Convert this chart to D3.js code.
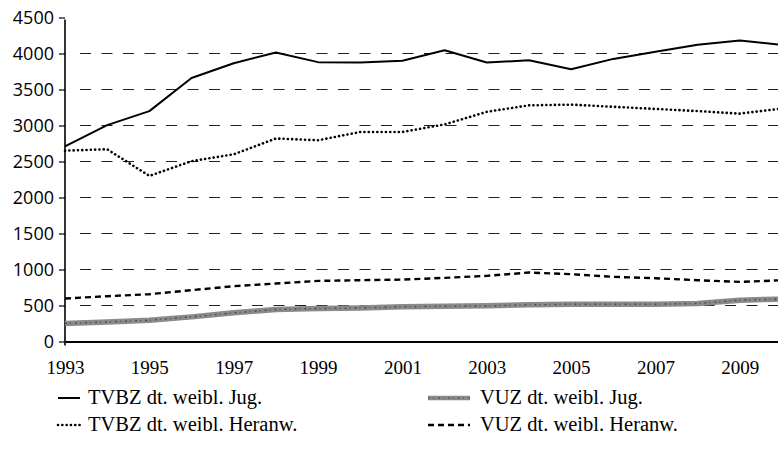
<!DOCTYPE html>
<html>
<head>
<meta charset="utf-8">
<script src="https://cdn.jsdelivr.net/npm/d3@7"></script>
<style>
  body { margin: 0; background: #fff; }
  svg { display: block; }
</style>
</head>
<body>
<div id="chart"></div>
<script>
// Données
const years = d3.range(1993, 2011);
const tvbzJug = [2710, 3005, 3200, 3660, 3865, 4015, 3880, 3875, 3900, 4045, 3875, 3905, 3780, 3925, 4025, 4120, 4180, 4120];
const tvbzHeranw = [2650, 2670, 2300, 2505, 2600, 2820, 2795, 2910, 2910, 3015, 3190, 3280, 3290, 3260, 3230, 3200, 3165, 3235];
const vuzJug = [250, 272, 295, 342, 398, 444, 458, 467, 481, 490, 495, 509, 518, 518, 518, 527, 573, 590];
const vuzHeranw = [597, 629, 657, 713, 768, 805, 842, 851, 860, 884, 912, 958, 935, 898, 879, 851, 828, 851];
const yTicks = d3.range(0, 4501, 500);
const xTicks = d3.range(1993, 2010, 2);
const legendLabels = [
  "TVBZ dt. weibl. Jug.", "VUZ dt. weibl. Jug.",
  "TVBZ dt. weibl. Heranw.", "VUZ dt. weibl. Heranw."
];

const width = 778, height = 457;
const svg = d3.select('#chart').append('svg')
  .attr('width', width)
  .attr('height', height);

const x = d3.scaleLinear().domain([1993, 2010]).range([65, 782]);
const y = d3.scaleLinear().domain([0, 4500]).range([341.5, 17.5]);

// Quadrillage
svg.append('g').selectAll('line')
  .data(yTicks.filter(d => d > 0 && d < 4500))
  .join('line')
  .attr('x1', 80).attr('x2', width)
  .attr('y1', d => y(d)).attr('y2', d => y(d))
  .attr('stroke', '#222')
  .attr('stroke-width', 1.2)
  .attr('stroke-dasharray', '11,10.5');

// Axe Y
const yAxis = svg.append('g')
  .attr('transform', `translate(${x(1993)},0)`)
  .call(d3.axisLeft(y).tickValues(yTicks).tickSize(6).tickPadding(5).tickFormat(d3.format('d')));
yAxis.select('.domain').attr('stroke', '#000').attr('stroke-width', 1.6)
  .attr('d', `M0,${y(4500) + 2}V${y(0) + 4}`);
yAxis.selectAll('.tick line').attr('stroke', '#000').attr('stroke-width', 1.2);
yAxis.selectAll('text')
  .attr('font-family', '"Open Sans", sans-serif')
  .attr('font-size', 18)
  .attr('fill', '#000');

// Axe X
const xAxis = svg.append('g')
  .attr('transform', `translate(0,${y(0)})`)
  .call(d3.axisBottom(x).tickValues(xTicks).tickSize(0).tickPadding(19).tickFormat(d3.format('d')));
xAxis.select('.domain').attr('stroke', '#000').attr('stroke-width', 2.2);
xAxis.selectAll('text')
  .attr('font-family', '"Liberation Serif", serif')
  .attr('font-size', 19)
  .attr('fill', '#000');

// Styles des séries
const styles = [
  { data: tvbzJug, stroke: '#000', width: 2, dash: null, cap: 'butt' },
  { data: vuzJug, stroke: '#8a8a8a', width: 5.5, dash: null, cap: 'butt', texture: true },
  { data: tvbzHeranw, stroke: '#000', width: 2.6, dash: '0.1,4.2', cap: 'round' },
  { data: vuzHeranw, stroke: '#000', width: 2.4, dash: '6,4', cap: 'butt' }
];

const line = d3.line().x((d, i) => x(years[i])).y(d => y(d));

styles.forEach(s => {
  svg.append('path')
    .datum(s.data)
    .attr('d', line)
    .attr('fill', 'none')
    .attr('stroke', s.stroke)
    .attr('stroke-width', s.width)
    .attr('stroke-linecap', s.cap)
    .attr('stroke-linejoin', 'round')
    .attr('stroke-dasharray', s.dash);
  if (s.texture) {
    svg.append('path')
      .datum(s.data)
      .attr('d', line)
      .attr('fill', 'none')
      .attr('stroke', '#4a4a4a')
      .attr('stroke-width', 1.4)
      .attr('stroke-dasharray', '2,3,1,4');
  }
});

// Légende
const legend = svg.append('g');
const legendPos = [[58, 398], [428, 398], [58, 425], [428, 425]];
legendLabels.forEach((label, i) => {
  const [lx, ly] = legendPos[i];
  const s = styles[i];
  legend.append('line')
    .attr('x1', lx).attr('x2', lx + (i % 2 ? 42 : 22))
    .attr('y1', ly).attr('y2', ly)
    .attr('stroke', s.stroke)
    .attr('stroke-width', s.texture ? 4.5 : s.width)
    .attr('stroke-linecap', s.cap)
    .attr('stroke-dasharray', s.dash);
  if (s.texture) {
    legend.append('line')
      .attr('x1', lx).attr('x2', lx + 42)
      .attr('y1', ly).attr('y2', ly)
      .attr('stroke', '#4a4a4a')
      .attr('stroke-width', 1.2)
      .attr('stroke-dasharray', '2,3,1,4');
  }
  legend.append('text')
    .attr('x', lx + (i % 2 ? 52 : 30))
    .attr('y', ly + 6)
    .attr('font-family', '"Liberation Serif", serif')
    .attr('font-size', 20.5)
    .attr('fill', '#000')
    .text(label);
});
</script>
</body>
</html>
